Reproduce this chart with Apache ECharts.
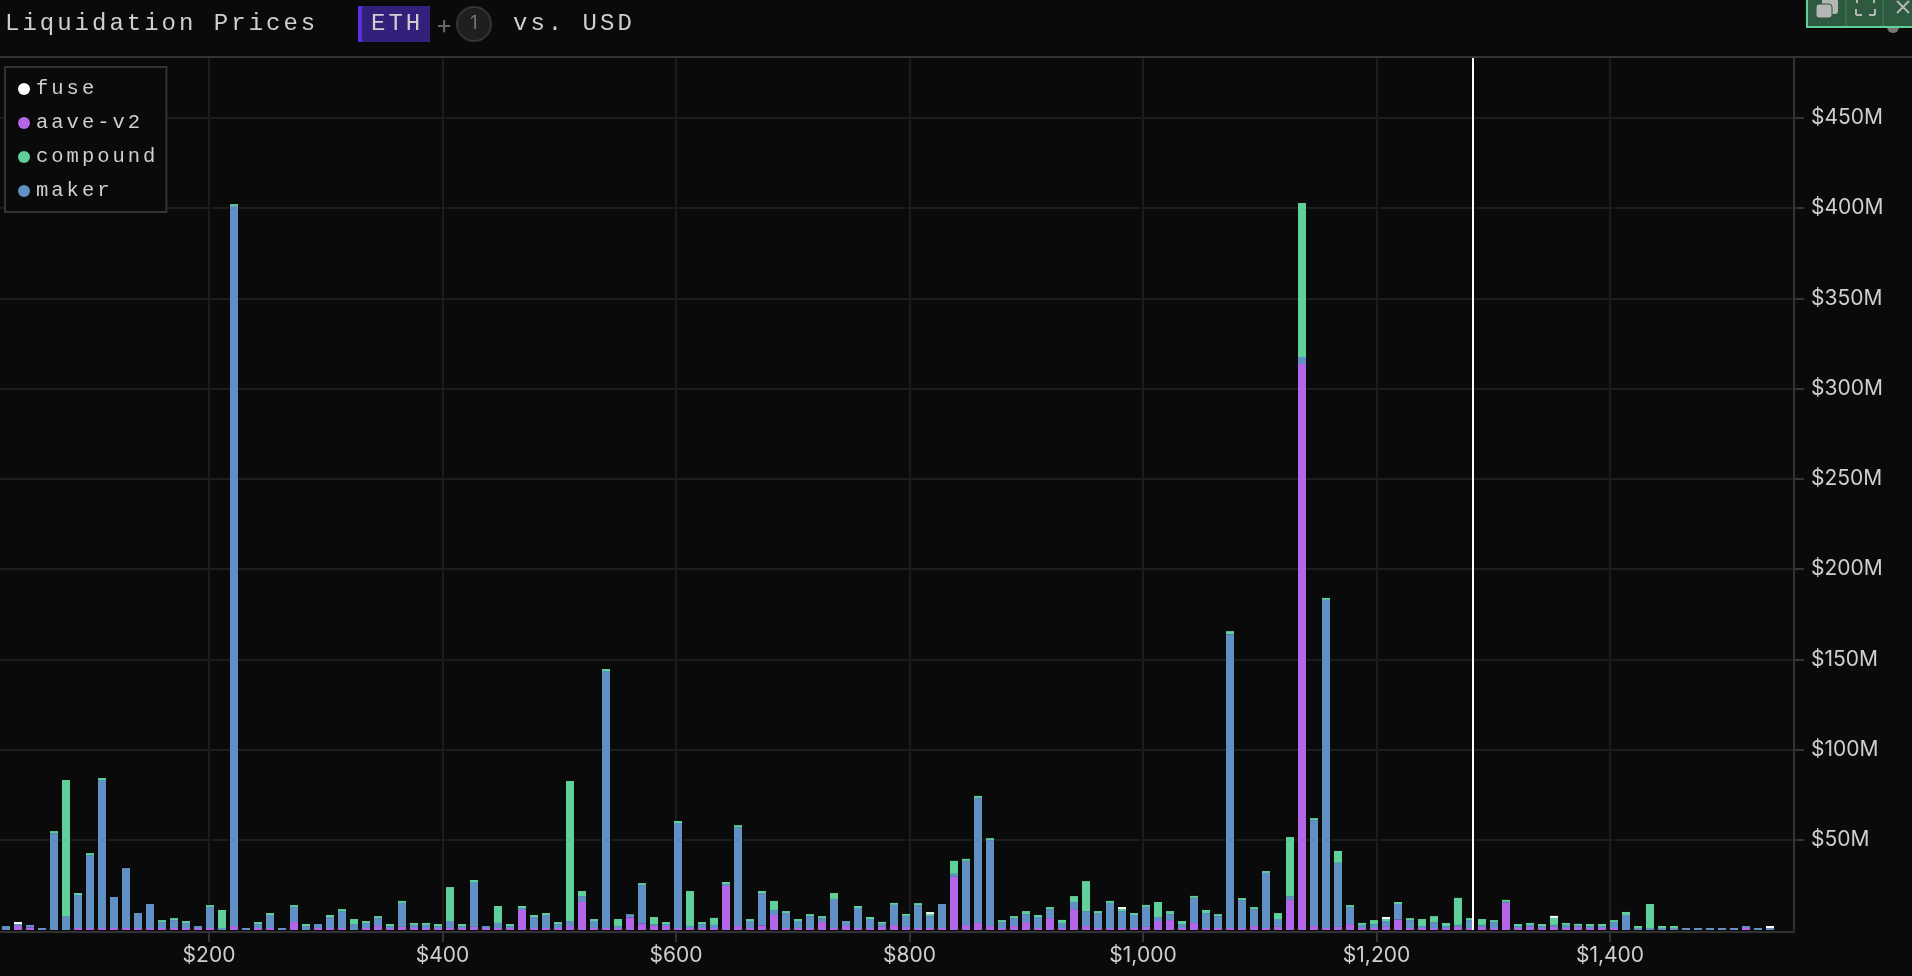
<!DOCTYPE html>
<html><head><meta charset="utf-8">
<style>html,body{margin:0;padding:0;background:#0a0a0a}#c{width:1912px;height:976px}</style>
<script src="https://cdn.jsdelivr.net/npm/echarts@6/dist/echarts.min.js"></script>
</head><body><div id="c"></div>
<script>
// Bin centre price in USD
const prices = [
26.3,36.6,46.8,57.1,67.4,77.7,87.9,98.2,108.5,118.7,
129.0,139.3,149.5,159.8,170.1,180.4,190.6,200.9,211.2,221.4,
231.7,242.0,252.2,262.5,272.8,283.1,293.3,303.6,313.9,324.1,
334.4,344.7,354.9,365.2,375.5,385.8,396.0,406.3,416.6,426.8,
437.1,447.4,457.6,467.9,478.2,488.5,498.7,509.0,519.3,529.5,
539.8,550.1,560.3,570.6,580.9,591.2,601.4,611.7,622.0,632.2,
642.5,652.8,663.0,673.3,683.6,693.9,704.1,714.4,724.7,734.9,
745.2,755.5,765.7,776.0,786.3,796.6,806.8,817.1,827.4,837.6,
847.9,858.2,868.4,878.7,889.0,899.3,909.5,919.8,930.1,940.3,
950.6,960.9,971.1,981.4,991.7,1002.0,1012.2,1022.5,1032.8,1043.0,
1053.3,1063.6,1073.8,1084.1,1094.4,1104.7,1114.9,1125.2,1135.5,1145.7,
1156.0,1166.3,1176.5,1186.8,1197.1,1207.4,1217.6,1227.9,1238.2,1248.4,
1258.7,1269.0,1279.2,1289.5,1299.8,1310.1,1320.3,1330.6,1340.9,1351.1,
1361.4,1371.7,1381.9,1392.2,1402.5,1412.8,1423.0,1433.3,1443.6,1453.8,
1464.1,1474.4,1484.6,1494.9,1505.2,1515.5,1525.7,1536.0];
// Values in $M
const aave = [
0,2.2,1.5,0,0,0,1.1,1.1,1.1,1.1,
1.1,1.1,1.1,1.1,1.1,1.1,1.1,1.1,0,2.2,
0,1.1,1.1,0,4.4,0,1.1,1.1,1.1,0,
1.1,2.2,1.1,1.7,1.1,1.1,1.1,1.1,1.1,1.7,
1.1,1.1,1.1,11.1,1.1,1.1,1.1,2.2,15.5,1.1,
1.1,1.1,7.0,3.7,2.2,2.2,1.1,1.1,1.1,1.1,
24.4,2.2,1.1,2.6,8.3,1.1,1.1,1.1,4.4,1.1,
2.2,1.1,1.1,1.7,2.8,1.7,1.1,1.1,1.1,29.4,
2.8,3.9,2.2,1.1,2.2,4.4,1.1,6.6,1.1,11.6,
2.2,1.1,1.1,1.1,1.1,1.7,5.0,5.5,1.1,3.9,
1.1,1.1,1.1,1.1,2.2,1.1,1.7,16.6,313.6,2.2,
1.1,1.7,3.3,1.1,1.1,1.7,5.9,1.1,1.1,1.1,
1.1,1.7,1.1,1.7,1.1,15.0,1.1,1.7,1.1,1.7,
1.1,1.7,1.1,1.1,1.1,0,0,0,0,0,
0,0,0,0,0,1.1,0,0];
const maker = [
2.2,1.1,1.3,1.1,53.7,7.8,18.3,40.4,82.0,17.2,
33.2,8.3,13.3,3.3,4.4,2.8,1.1,11.6,1.1,398.9,
1.1,2.2,7.2,1.1,8.3,2.2,2.2,6.1,9.4,3.3,
2.8,4.4,1.1,13.3,1.7,1.7,1.1,3.9,1.1,24.9,
1.1,2.8,1.1,1.1,6.1,7.2,2.2,2.8,3.3,3.9,
142.4,1.1,1.8,21.2,1.1,1.1,58.2,1.1,2.2,1.7,
1.1,54.8,3.9,17.9,2.8,8.3,3.9,6.6,2.2,16.1,
2.8,11.1,5.0,1.7,11.1,6.1,12.7,6.6,13.3,1.7,
35.5,69.3,47.6,3.3,4.4,4.4,6.1,5.0,2.8,3.9,
8.3,8.3,13.9,9.4,7.2,11.1,2.2,3.3,2.2,13.9,
8.3,6.6,162.8,15.5,9.4,30.5,4.4,2.2,3.9,58.7,
181.8,35.5,9.4,1.7,2.2,3.3,8.5,4.4,1.1,3.3,
1.1,1.1,4.4,1.1,3.3,0.6,1.1,1.1,1.1,1.1,
1.7,0.6,1.1,1.1,3.3,8.3,1.1,1.1,1.1,1.1,
1.1,1.1,1.1,1.1,1.1,1.1,1.1,1.1];
const compound = [
0,0,0,0,1.1,75.3,1.1,1.1,1.1,0,
0,0,0,1.1,1.1,1.1,0,1.1,10.0,1.1,
0,1.1,1.1,0,1.1,1.1,0,1.1,1.1,2.8,
1.1,1.1,1.1,1.1,1.1,1.1,1.1,18.8,1.1,1.1,
0,9.4,1.1,1.1,1.1,1.1,1.1,77.6,2.8,1.1,
1.1,3.9,0,1.1,3.9,1.1,1.1,19.4,1.1,3.9,
1.1,1.1,1.1,1.1,5.0,1.1,1.1,1.1,1.1,3.3,
0,1.1,1.1,1.1,1.1,1.1,1.1,1.1,0,7.2,
1.1,1.1,1.1,1.1,1.1,1.7,1.1,1.1,1.7,3.3,
16.6,1.1,1.1,1.1,1.1,1.1,8.3,1.7,1.7,1.1,
1.7,1.1,1.7,1.1,1.1,1.1,3.3,32.7,85.3,1.1,
1.1,6.6,1.1,1.1,2.2,1.1,1.1,1.1,3.9,3.3,
1.7,15.0,1.1,3.3,1.1,1.1,1.1,1.1,1.1,3.9,
1.1,1.1,1.1,1.1,1.1,1.7,1.1,13.3,1.1,1.1,
0,0,0,0,0,0,0,0];
const fuse = [
0,1.1,0,0,0,0,0,0,0,0,
0,0,0,0,0,0,0,0,0,0,
0,0,0,0,0,0,0,0,0,0,
0,0,0,0,0,0,0,0,0,0,
0,0,0,0,0,0,0,0,0,0,
0,0,0,0,0,0,0,0,0,0,
0,0,0,0,0,0,0,0,0,0,
0,0,0,0,0,0,0,1.1,0,0,
0,0,0,0,0,0,0,0,0,0,
0,0,0,1.1,0,0,0,0,0,0,
0,0,0,0,0,0,0,0,0,0,
0,0,0,0,0,1.1,0,0,0,0,
0,0,0,0,0,0,0,0,0,1.1,
0,0,0,0,0,0,0,0,0,0,
0,0,0,0,0,0,0,1.1];
const xTicks = [200,400,600,800,1000,1200,1400];
const yTicks = [50,100,150,200,250,300,350,400,450];
const currentPrice = 1282.7;

// Tracking on the monospaced header/legend text
const MONO = '"Liberation Mono", monospace';
const fd = Object.getOwnPropertyDescriptor(CanvasRenderingContext2D.prototype, 'font');
Object.defineProperty(CanvasRenderingContext2D.prototype, 'font', {
  get() { return fd.get.call(this); },
  set(v) { fd.set.call(this, v); this.letterSpacing = v.indexOf('Liberation Mono') >= 0 ? '3px' : '0px'; }
});

const BG = '#0a0a0a', GRID = '#1c1c1c', AXIS = '#333333', TXT = '#cfcfcf';
const COL = { fuse: '#ffffff', aave: '#b565e8', compound: '#5fd09a', maker: '#6090c4' };
const bar = (name, data, color) => ({
  name, type: 'bar', stack: 'total', data, barWidth: 8, xAxisIndex: 1, yAxisIndex: 1,
  itemStyle: { color }, silent: true
});

const chart = echarts.init(document.getElementById('c'), null, { renderer: 'canvas' });
const g = (o) => Object.assign({ silent: true }, o);
const line = (x1, y1, x2, y2, stroke, w) => g({ type: 'line', shape: { x1, y1, x2, y2 }, style: { stroke, lineWidth: w || 2 }, z: 20 });
const rect = (x, y, width, height, fill, r, extra) => g({ type: 'rect', shape: { x, y, width, height, r: r || 0 }, style: Object.assign({ fill }, extra || {}), z: 20 });
const text = (x, y, t, size, fill, family, align) => g({ type: 'text', x, y, style: { text: t, font: size + 'px ' + (family || MONO), fill, textAlign: align || 'left', textVerticalAlign: 'middle' }, z: 21 });

chart.setOption({
  animation: false,
  backgroundColor: BG,
  grid: [
    { left: 0, top: 57, right: 118, bottom: 46 },
    { left: 0, top: 57, right: 136, bottom: 46 }
  ],
  legend: {
    show: true, orient: 'vertical', left: 5, top: 67,
    data: ['fuse', 'aave-v2', 'compound', 'maker'],
    icon: 'circle', itemWidth: 12, itemHeight: 12, itemGap: 10,
    padding: [10, 8, 9, 13],
    backgroundColor: BG, borderColor: AXIS, borderWidth: 2,
    textStyle: { color: TXT, fontFamily: MONO, fontSize: 20.5, padding: [0, 0, 0, 1] },
    selectedMode: false
  },
  xAxis: [{
    type: 'value', gridIndex: 0, min: 21, max: 1557.6, offset: 2,
    axisLine: { show: true, onZero: false, lineStyle: { color: AXIS, width: 2 } },
    axisTick: { show: true, length: 10, customValues: xTicks, lineStyle: { color: AXIS, width: 2 } },
    axisLabel: { customValues: xTicks, margin: 13, color: TXT, fontFamily: 'Inter', fontSize: 21,
      formatter: v => '$' + Number(v).toLocaleString('en-US') },
    splitLine: { show: true, lineStyle: { color: GRID, width: 2 } }
  }, {
    type: 'category', gridIndex: 1, data: prices, show: false
  }],
  yAxis: [{
    type: 'value', gridIndex: 0, position: 'right', min: 0, max: 483.7,
    axisLine: { show: true, lineStyle: { color: AXIS, width: 2 } },
    axisTick: { show: true, length: 10, customValues: yTicks, lineStyle: { color: AXIS, width: 2 } },
    axisLabel: { customValues: yTicks, margin: 17, color: TXT, fontFamily: 'Inter', fontSize: 21, padding: [2, 0, 0, 0], formatter: v => '$' + v + 'M' },
    splitLine: { show: true, lineStyle: { color: GRID, width: 2 } }
  }, {
    type: 'value', gridIndex: 1, min: 0, max: 483.7, show: false, splitLine: { show: false }
  }],
  series: [
    bar('aave-v2', aave, COL.aave),
    bar('maker', maker, COL.maker),
    bar('compound', compound, COL.compound),
    bar('fuse', fuse, COL.fuse),
    {
      name: 'current price', type: 'line', xAxisIndex: 0, yAxisIndex: 0, data: [], z: 10,
      markLine: { silent: true, symbol: 'none', label: { show: false }, animation: false,
        lineStyle: { color: '#ffffff', width: 2, type: 'solid' }, data: [{ xAxis: currentPrice }] }
    }
  ],
  graphic: [
    line(0, 57, 1912, 57, AXIS),
    text(5, 24, 'Liquidation Prices', 24, TXT),
    rect(358, 6, 72, 36, '#33207a'),
    rect(358, 6, 4, 36, '#5a2ee0'),
    text(371, 24, 'ETH', 24, TXT),
    text(444, 25, '+', 26, '#666666', 'Inter', 'center'),
    g({ type: 'circle', shape: { cx: 474, cy: 24, r: 17 }, style: { fill: '#1f1f1f', stroke: AXIS, lineWidth: 2 }, z: 20 }),
    text(474, 24, '1', 18, '#777777', 'Inter', 'center'),
    text(513, 24, 'vs. USD', 24, TXT),
    // floating panel controls, top right
    g({ type: 'circle', shape: { cx: 1893, cy: 27, r: 6 }, style: { fill: '#777777' }, z: 19 }),
    rect(1807, -4, 110, 31, '#2e5a40', 0, { stroke: '#5fcf9a', lineWidth: 2 }),
    line(1846, 0, 1846, 26, '#3c6b50'),
    line(1883, 0, 1883, 26, '#3c6b50'),
    rect(1822, -4, 16, 18, '#b5b5b5', 3),
    rect(1816, 4, 16, 14, '#b5b5b5', 3, { stroke: '#2e5a40', lineWidth: 1 }),
    line(1856, 15, 1862, 15, '#b5b5b5'), line(1856, 9, 1856, 15, '#b5b5b5'),
    line(1869, 15, 1875, 15, '#b5b5b5'), line(1875, 9, 1875, 15, '#b5b5b5'),
    line(1857, 0, 1857, 3, '#b5b5b5'), line(1874, 0, 1874, 3, '#b5b5b5'),
    line(1897, 1, 1909, 13, '#b5b5b5'), line(1909, 1, 1897, 13, '#b5b5b5')
  ]
});
</script></body></html>
